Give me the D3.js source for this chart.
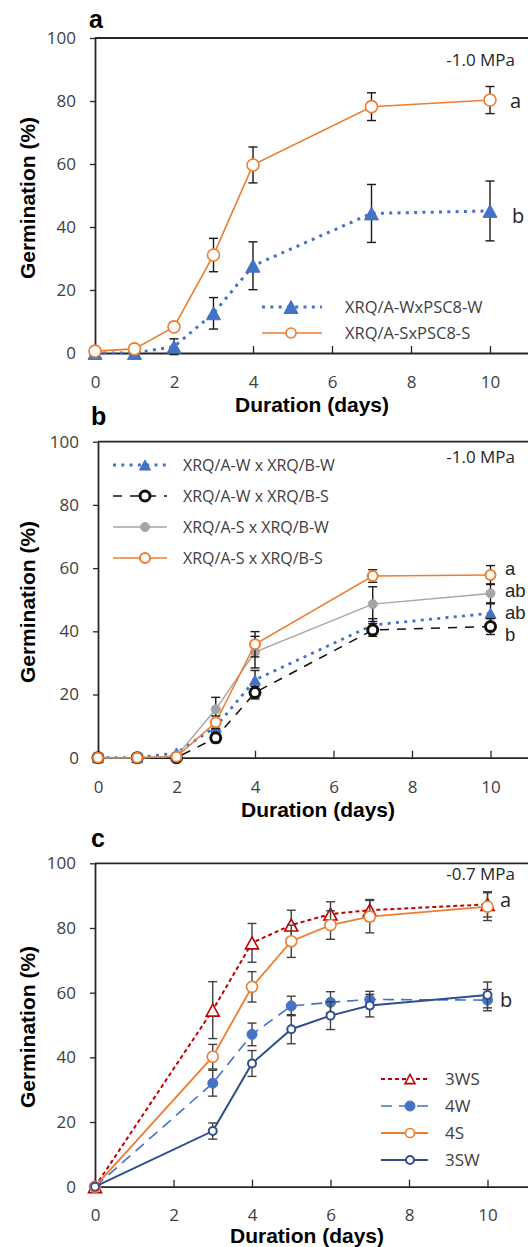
<!DOCTYPE html>
<html>
<head>
<meta charset="utf-8">
<script src="https://cdn.jsdelivr.net/npm/d3@7"></script>
<style>
  body { margin: 0; background: #fff; }
  svg { display: block; }
</style>
</head>
<body>
<svg id="chart" width="528" height="1247"></svg>
<script>
// ---------- data ----------
const xTicks = [0, 2, 4, 6, 8, 10];
const yTicks = [0, 20, 40, 60, 80, 100];

// panel a: parental lines at -1.0 MPa
const daysA = [0, 1, 2, 3, 4, 7, 10];
const aWW = [0, 0, 2, 12.6, 27.7, 44.3, 45.1];
const aWWErr = [0, 0, 2.5, 5, 7.6, 9.2, 9.5];
const aSS = [0.6, 1.3, 8.3, 31.1, 59.7, 78.2, 80.3];
const aSSErr = [0, 0, 0, 5.3, 5.7, 4.4, 4.3];
const namesA = ["XRQ/A-WxPSC8-W", "XRQ/A-SxPSC8-S"];
const lettersA = ["a", "b"];

// panel b: reciprocal crosses at -1.0 MPa
const daysB = [0, 1, 2, 3, 4, 7, 10];
const bWW = [0, 0, 1.5, 9.8, 24.6, 42, 45.7];
const bWWErr = [0, 0, 0, 2, 3, 2, 3];
const bWS = [0, 0, 0, 6.3, 20.6, 40.4, 41.5];
const bWSErr = [0, 0, 0, 1.5, 2, 2, 2.5];
const bSW = [0, 0, 0.5, 15.3, 33.4, 48.6, 52];
const bSWErr = [0, 0, 0, 3.8, 5, 5.5, 3];
const bSS = [0, 0, 0.3, 11.2, 35.9, 57.5, 57.8];
const bSSErr = [0, 0, 0, 2, 4, 2, 3];
const namesB = ["XRQ/A-W x XRQ/B-W", "XRQ/A-W x XRQ/B-S", "XRQ/A-S x XRQ/B-W", "XRQ/A-S x XRQ/B-S"];
const lettersB = ["a", "ab", "ab", "b"];

// panel c: near-isogenic lines at -0.7 MPa
const daysC = [0, 3, 4, 5, 6, 7, 10];
const c3WS = [0, 54.6, 75.4, 80.9, 84.3, 85.5, 87.3];
const c3WSErr = [0, 8.8, 6, 4.6, 3.8, 3.3, 3.9];
const c4W = [0, 32, 47.1, 55.9, 57, 57.9, 57.7];
const c4WErr = [0, 4, 3.5, 3, 3.3, 2.5, 3.3];
const c4S = [0, 40.2, 61.8, 75.9, 80.9, 83.5, 86.6];
const c4SErr = [0, 3.8, 4.7, 5, 4.4, 5, 4.3];
const c3SW = [0, 17.2, 38.1, 48.7, 52.9, 56, 59.3];
const c3SWErr = [0, 2.5, 4, 4.5, 4.3, 3.5, 4];
const namesC = ["3WS", "4W", "4S", "3SW"];
const lettersC = ["a", "b"];

const pressures = ["-1.0 MPa", "-1.0 MPa", "-0.7 MPa"];
const panelLabels = ["a", "b", "c"];

// ---------- styles ----------
const ORANGE = "#ED7D31", BLUE = "#4472C4", GREY = "#A5A5A5", RED = "#C00000", NAVY = "#2F4F8F";
const TICK_FONT = "'Open Sans', sans-serif";
const TITLE_FONT = "'Liberation Sans', Arial, sans-serif";

const svg = d3.select("#chart");

function markerPath(kind, size) {
  if (kind === "tri") {
    const w = size, h = size * 0.92;
    return `M0,${-h / 2}L${w / 2},${h / 2}L${-w / 2},${h / 2}Z`;
  }
  return d3.symbol(d3.symbolCircle, Math.PI * (size / 2) * (size / 2))();
}

function drawMarker(g, x, y, s) {
  const p = g.append("path")
    .attr("transform", `translate(${x},${y})`)
    .attr("d", markerPath(s.marker, s.size));
  if (s.filled) {
    p.attr("fill", s.color).attr("stroke", s.color).attr("stroke-width", 1);
  } else {
    p.attr("fill", "#fff").attr("stroke", s.mstroke || s.color).attr("stroke-width", s.mwidth || 1.6);
  }
}

function drawPanel(p) {
  const x = d3.scaleLinear().domain([0, 12]).range([p.left, p.left + 6 * p.step]);
  const y = d3.scaleLinear().domain([0, 100]).range([p.bottom, p.top]);
  const g = svg.append("g");

  // frame top line
  g.append("line")
    .attr("x1", p.left).attr("x2", 528)
    .attr("y1", p.top).attr("y2", p.top)
    .attr("stroke", "#262626").attr("stroke-width", 1.8);

  // y axis
  const ya = g.append("g").attr("transform", `translate(${p.left},0)`)
    .call(d3.axisLeft(y).tickValues(yTicks).tickSize(5).tickSizeOuter(0).tickPadding(14));
  ya.select(".domain").attr("stroke", "#262626").attr("stroke-width", 1.8);
  ya.selectAll(".tick line").attr("stroke", "#262626").attr("stroke-width", 1.3);
  ya.selectAll(".tick text").attr("font-family", TICK_FONT).attr("font-size", 17).attr("fill", "#404040");

  // x axis (ticks pointing inward)
  const xa = g.append("g").attr("transform", `translate(0,${p.bottom})`)
    .call(d3.axisBottom(x).tickValues(xTicks).tickSize(-7).tickSizeOuter(0).tickPadding(17));
  xa.select(".domain").attr("stroke", "#262626").attr("stroke-width", 1.8);
  xa.selectAll(".tick line").attr("stroke", "#262626").attr("stroke-width", 1.3);
  xa.selectAll(".tick text").attr("font-family", TICK_FONT).attr("font-size", 17).attr("fill", "#404040")
    .attr("dy", 0).attr("y", p.xTickBase - p.bottom);

  // series
  p.series.forEach(s => {
    const pts = p.days.map((d, i) => ({ d, v: s.values[i], e: s.err[i] }));
    const line = d3.line().x(q => x(q.d)).y(q => y(q.v));
    g.append("path").datum(pts)
      .attr("d", line).attr("fill", "none")
      .attr("stroke", s.color).attr("stroke-width", s.width)
      .attr("stroke-dasharray", s.dash || null);
    pts.forEach(q => {
      if (q.e > 0) {
        const y1 = y(q.v - q.e), y2 = y(q.v + q.e), cx = x(q.d);
        g.append("line").attr("x1", cx).attr("x2", cx).attr("y1", y1).attr("y2", y2)
          .attr("stroke", p.errColor).attr("stroke-width", 1.4);
        [y1, y2].forEach(yy => g.append("line")
          .attr("x1", cx - 4.5).attr("x2", cx + 4.5).attr("y1", yy).attr("y2", yy)
          .attr("stroke", p.errColor).attr("stroke-width", 1.4));
      }
    });
    pts.forEach(q => drawMarker(g, x(q.d), y(q.v), s));
  });

  // legend
  p.series.forEach((s, i) => {
    const ly = p.legend.y0 + i * p.legend.dy;
    g.append("line").attr("x1", p.legend.x1).attr("x2", p.legend.x2).attr("y1", ly).attr("y2", ly)
      .attr("stroke", s.color).attr("stroke-width", s.width).attr("stroke-dasharray", s.dash || null);
    drawMarker(g, p.legend.xm, ly, Object.assign({}, s, { size: s.lsize || s.size }));
    g.append("text").attr("x", p.legend.xt).attr("y", ly + 6)
      .attr("font-family", TICK_FONT).attr("font-size", p.legend.fs).attr("fill", "#404040")
      .text(s.name);
  });

  // pressure note
  g.append("text").attr("x", 515).attr("y", p.noteY).attr("text-anchor", "end")
    .attr("font-family", TICK_FONT).attr("font-size", 17).attr("fill", "#262626").text(p.note);

  // significance letters
  p.letters.forEach(L => g.append("text").attr("x", L.x).attr("y", L.y)
    .attr("font-family", p.letterFont).attr("font-size", p.letterSize).attr("fill", "#262626").text(L.t));

  // panel letter
  g.append("text").attr("x", p.tagX).attr("y", p.tagY)
    .attr("font-family", TITLE_FONT).attr("font-weight", "bold").attr("font-size", 25).text(p.tag);

  // axis titles
  g.append("text").attr("transform", `translate(27,${p.yTitleY}) rotate(-90)`)
    .attr("text-anchor", "middle").attr("dy", "0.36em")
    .attr("font-family", TITLE_FONT).attr("font-weight", "bold").attr("font-size", 21)
    .text("Germination (%)");
  g.append("text").attr("x", p.xTitleX).attr("y", p.xTitleY).attr("text-anchor", "middle")
    .attr("font-family", TITLE_FONT).attr("font-weight", "bold").attr("font-size", 21)
    .text("Duration (days)");
}

// ---------- panel a ----------
drawPanel({
  left: 95, step: 79, top: 38, bottom: 353, xTickBase: 388,
  days: daysA, errColor: "#1a1a1a",
  series: [
    { name: namesA[0], values: aWW, err: aWWErr, color: BLUE, width: 3, dash: "3 5.3", marker: "tri", size: 14, filled: true },
    { name: namesA[1], values: aSS, err: aSSErr, color: ORANGE, width: 1.6, marker: "circle", size: 12, filled: false, lsize: 10 }
  ],
  legend: { x1: 262, x2: 322, xm: 291, xt: 345, y0: 307, dy: 26, fs: 16.5 },
  note: pressures[0], noteY: 66,
  letters: [{ t: lettersA[0], x: 510, y: 108 }, { t: lettersA[1], x: 512, y: 223 }],
  letterFont: TICK_FONT, letterSize: 20,
  tag: panelLabels[0], tagX: 89, tagY: 28,
  yTitleY: 198, xTitleX: 312, xTitleY: 412
});

// ---------- panel b ----------
drawPanel({
  left: 98, step: 78.5, top: 441.7, bottom: 757.7, xTickBase: 793,
  days: daysB, errColor: "#1a1a1a",
  series: [
    { name: namesB[0], values: bWW, err: bWWErr, color: BLUE, width: 2.8, dash: "3 5.3", marker: "tri", size: 11, filled: true },
    { name: namesB[1], values: bWS, err: bWSErr, color: "#111", width: 1.5, dash: "9 8", marker: "circle", size: 10, filled: false, mwidth: 3 },
    { name: namesB[2], values: bSW, err: bSWErr, color: GREY, width: 1.5, marker: "circle", size: 9, filled: true },
    { name: namesB[3], values: bSS, err: bSSErr, color: ORANGE, width: 1.6, marker: "circle", size: 10, filled: false, mwidth: 2 }
  ],
  legend: { x1: 113, x2: 167, xm: 145, xt: 183, y0: 465, dy: 31, fs: 16 },
  note: pressures[1], noteY: 463,
  letters: [
    { t: lettersB[0], x: 505, y: 575 }, { t: lettersB[1], x: 505, y: 597 },
    { t: lettersB[2], x: 505, y: 619 }, { t: lettersB[3], x: 505, y: 641 }
  ],
  letterFont: TITLE_FONT, letterSize: 18.5,
  tag: panelLabels[1], tagX: 91, tagY: 425,
  yTitleY: 602, xTitleX: 318, xTitleY: 817
});

// ---------- panel c ----------
drawPanel({
  left: 95, step: 78.5, top: 863.3, bottom: 1186.7, xTickBase: 1221,
  days: daysC, errColor: "#404040",
  series: [
    { name: namesC[0], values: c3WS, err: c3WSErr, color: RED, width: 2, dash: "4 3", marker: "tri", size: 13, filled: false, lsize: 10 },
    { name: namesC[1], values: c4W, err: c4WErr, color: BLUE, width: 1.6, dash: "11 7", marker: "circle", size: 10, filled: true },
    { name: namesC[2], values: c4S, err: c4SErr, color: ORANGE, width: 1.8, marker: "circle", size: 11, filled: false, lsize: 9 },
    { name: namesC[3], values: c3SW, err: c3SWErr, color: NAVY, width: 2, marker: "circle", size: 8, filled: false, mwidth: 2 }
  ],
  legend: { x1: 381, x2: 428, xm: 410, xt: 445, y0: 1079, dy: 27, fs: 17 },
  note: pressures[2], noteY: 880,
  letters: [{ t: lettersC[0], x: 500, y: 907 }, { t: lettersC[1], x: 500, y: 1007 }],
  letterFont: TICK_FONT, letterSize: 20,
  tag: panelLabels[2], tagX: 91, tagY: 847,
  yTitleY: 1027, xTitleX: 307, xTitleY: 1243
});
</script>
</body>
</html>
